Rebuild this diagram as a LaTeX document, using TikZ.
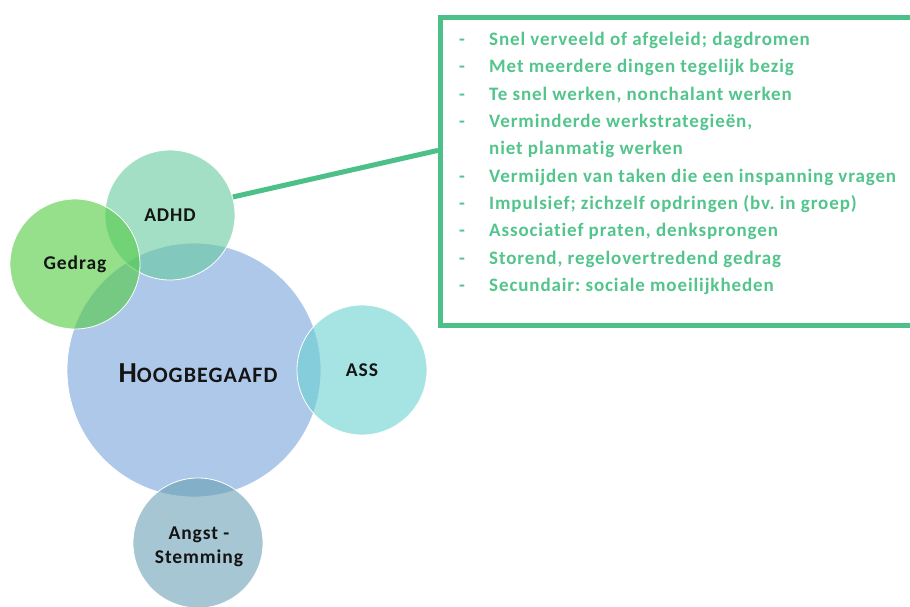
\documentclass[tikz,border=0pt]{standalone}
\usepackage{fontspec}
\setmainfont{Carlito}[LetterSpace=4.7, Ligatures=NoCommon]
\frenchspacing
\usetikzlibrary{calc}
\definecolor{hbblue}{RGB}{118,163,218}
\definecolor{adhdgreen}{RGB}{102,202,158}
\definecolor{gedraggreen}{RGB}{80,203,63}
\definecolor{asscyan}{RGB}{107,210,210}
\definecolor{angstblue}{RGB}{105,160,180}
\definecolor{boxgreen}{RGB}{76,192,136}
\definecolor{listgreen}{RGB}{82,196,140}
\definecolor{labelink}{RGB}{20,20,20}
\begin{document}
\begin{tikzpicture}[x=1pt,y=-1pt,
  bubble/.style={circle, draw=white, line width=0.8pt, fill opacity=0.6,
    text opacity=1, draw opacity=1, inner sep=0pt, align=center,
    text=labelink, font=\bfseries\fontsize{19.5}{22.5}\selectfont},
  small/.style={bubble, minimum size=130pt},
  bubbletext/.style={align=center, inner sep=0pt, text=labelink,
    font=\bfseries\fontsize{19.5}{24}\selectfont},
  item/.style={anchor=base west, inner sep=0pt, text=listgreen,
    font=\bfseries\fontsize{19}{20}\selectfont}]
\clip (0,0) rectangle (910,606);

% central circle and the four overlapping circles
\node[bubble, fill=hbblue, minimum size=254pt] (hb) at (194,370) {};
\node[anchor=center, text=labelink, font=\bfseries] (hblabel) at (198,373)
  {{\fontsize{29}{30}\selectfont H}{\fontsize{22}{24}\selectfont OOGBEGAAFD}};
\node[small, fill=adhdgreen] (adhd) at (170,215) {ADHD};
\node[small, fill=gedraggreen] (gedrag) at (75,264) {Gedrag};
\node[small, fill=asscyan] (ass) at (362,370) {ASS};
\node[small, fill=angstblue] (angst) at (198,543) {};
\node[bubbletext] (angstlabel) at (199,547) {Angst -\\Stemming};

% list of ADHD traits in a framed box
\node[draw=boxgreen, line width=5pt, minimum width=500pt, minimum height=308pt,
  anchor=north west, inner sep=0pt] (box) at (438,14.5) {};
\draw[boxgreen, line width=5pt] (adhd.16) -- ($(box.north west)!0.434!(box.south west)$);

\node[item] (d1) at (459,45) {-};   \node[item] (t1) at (489,45) {Snel verveeld of afgeleid; dagdromen};
\node[item] (d2) at (459,72.5) {-}; \node[item] (t2) at (489,72.5) {Met meerdere dingen tegelijk bezig};
\node[item] (d3) at (459,100) {-};  \node[item] (t3) at (489,100) {Te snel werken, nonchalant werken};
\node[item] (d4) at (459,127) {-};  \node[item] (t4) at (489,127) {Verminderde werkstrategieën,};
\node[item] (t4b) at (489,154) {niet planmatig werken};
\node[item] (d5) at (459,182) {-};  \node[item] (t5) at (489,182) {Vermijden van taken die een inspanning vragen};
\node[item] (d6) at (459,209) {-};  \node[item] (t6) at (489,209) {Impulsief; zichzelf opdringen (bv. in groep)};
\node[item] (d7) at (459,236) {-};  \node[item] (t7) at (489,236) {Associatief praten, denksprongen};
\node[item] (d8) at (459,264) {-};  \node[item] (t8) at (489,264) {Storend, regelovertredend gedrag};
\node[item] (d9) at (459,291) {-};  \node[item] (t9) at (489,291) {Secundair: sociale moeilijkheden};
\end{tikzpicture}
\end{document}
